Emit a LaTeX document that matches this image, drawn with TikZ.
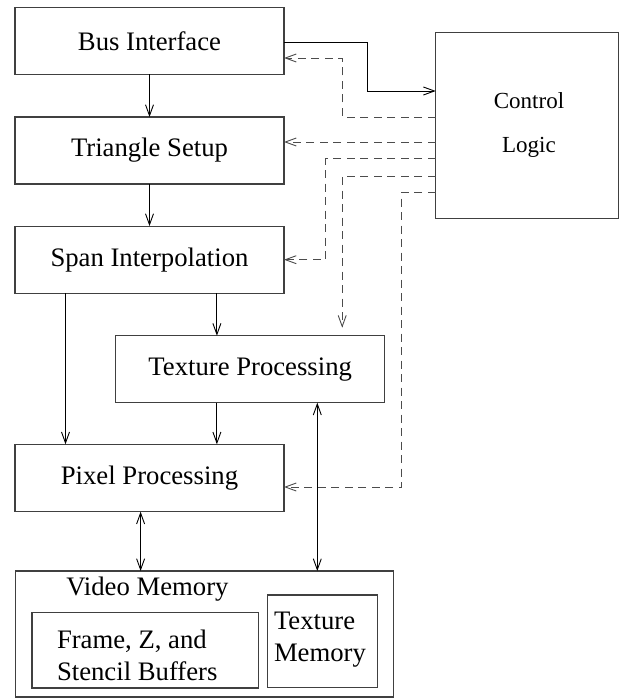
\documentclass[tikz,border=0pt]{standalone}
\usepackage{fontspec}
\setmainfont{Liberation Serif}
\usetikzlibrary{arrows.meta}
\begin{document}
\begin{tikzpicture}[x=1pt,y=-1pt,
  box/.style={draw=black!75,line width=1.1pt,inner sep=0pt,outer sep=0pt,
    font=\fontsize{26.7}{32}\selectfont},
  txt/.style={inner sep=0pt,outer sep=0pt,font=\fontsize{26.7}{32}\selectfont},
  tip/.style={-{Straight Barb[length=11pt,width=8pt]}},
  sol/.style={draw=black,line width=0.9pt,tip},
  both/.style={draw=black,line width=0.9pt,{Straight Barb[length=11pt,width=8pt]}-{Straight Barb[length=11pt,width=8pt]}},
  dsh/.style={draw=black!70,line width=0.9pt,dash pattern=on 8pt off 5.5pt,tip}]
\useasboundingbox (0,0) rectangle (630,698);
% boxes
\node[box,minimum width=269pt,minimum height=67pt] (bus) at (149.5,41) {Bus Interface};
\node[box,minimum width=269pt,minimum height=67pt] (tri) at (149.5,150.5) {Triangle Setup};
\node[box,minimum width=269pt,minimum height=67.3pt] (span) at (149.5,259.7) {Span Interpolation};
\node[box,minimum width=269pt,minimum height=67pt] (tex) at (250.2,369.2) {Texture Processing};
\node[box,minimum width=269pt,minimum height=67.4pt] (pix) at (149.5,478) {Pixel Processing};
\node[box,minimum width=378pt,minimum height=126pt] (vm) at (204.1,634) {};
\node[box,minimum width=226.6pt,minimum height=75.3pt] (frame) at (145.3,650.35) {};
\node[box,minimum width=110pt,minimum height=92.5pt] (texmem) at (322.3,641.25) {};
\node[box,minimum width=182.8pt,minimum height=185.6pt] (ctrl) at (527.1,125.5) {};
% texts
\node[txt,anchor=base west] (vmtext) at (66.3,595) {Video Memory};
\node[txt,anchor=north west,align=left] (frametext) at (57,629.8) {Frame, Z, and\\Stencil Buffers};
\node[txt,anchor=north west,align=left] (texmemtext) at (274,611.8) {Texture\\Memory};
\node[inner sep=0pt,anchor=north,align=center,font=\fontsize{23}{43.4}\selectfont] (ctrltext) at (529,92.6) {Control\\Logic};
% solid connectors
\draw[sol] (bus.south) -- (tri.north);
\draw[sol] (tri.south) -- (span.north);
\draw[sol] ([xshift=-84pt]span.south) -- ([xshift=-84pt]pix.north);
\draw[sol] ([xshift=67.4pt]span.south) -- ([xshift=-33.3pt]tex.north);
\draw[sol] ([xshift=-33.3pt]tex.south) -- ([xshift=67.4pt]pix.north);
\draw[both] ([xshift=-8.9pt]pix.south) -- ([xshift=-63.5pt]vm.north);
\draw[both] ([xshift=67.1pt]tex.south) -- ([xshift=113.2pt]vm.north);
\draw[sol] ([yshift=-1pt]bus.east) -- ++(83.5,0) |- ([yshift=34.5pt]ctrl.west);
% dashed control lines
\draw[dsh] ([yshift=8.5pt]ctrl.west) -- ++(-93.5,0) |- ([yshift=-17pt]bus.east);
\draw[dsh] ([yshift=-16.5pt]ctrl.west) -- ([yshift=8.5pt]tri.east);
\draw[dsh] ([yshift=-33pt]ctrl.west) -- ++(-110,0) |- (span.east);
\draw[dsh] ([yshift=-50.5pt]ctrl.west) -| ([xshift=92pt,yshift=8pt]tex.north);
\draw[dsh] ([yshift=-66.5pt]ctrl.west) -- ++(-34,0) |- ([yshift=-9pt]pix.east);
\end{tikzpicture}
\end{document}
